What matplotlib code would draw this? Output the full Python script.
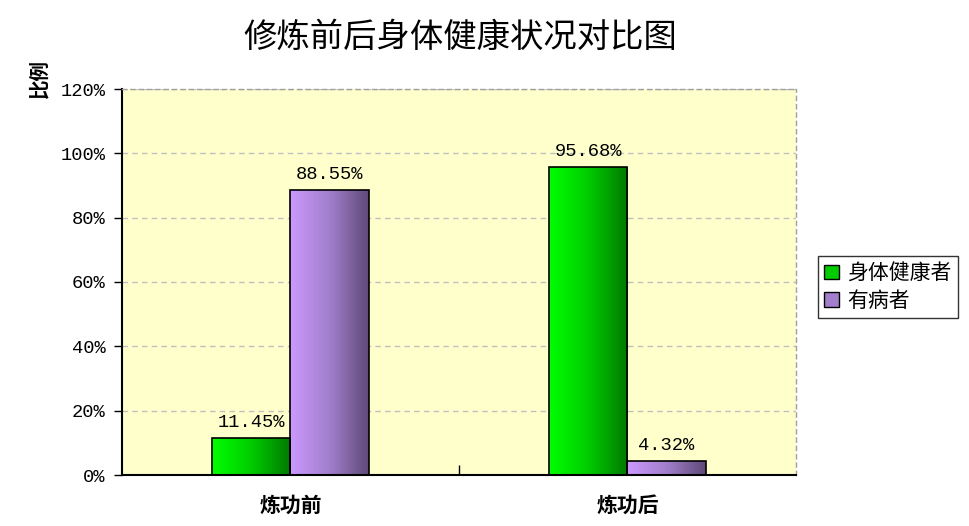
import numpy as np
import matplotlib
matplotlib.use("Agg")
import matplotlib.pyplot as plt
from matplotlib.patches import Patch
from matplotlib.colors import LinearSegmentedColormap

plt.rcParams['font.family'] = ['Noto Sans CJK SC', 'DejaVu Sans']

categories = ["炼功前", "炼功后"]
series_names = ["身体健康者", "有病者"]
healthy = [11.45, 95.68]
sick = [88.55, 4.32]
yticks = [0, 20, 40, 60, 80, 100, 120]

fig = plt.figure(figsize=(9.7, 5.26), dpi=100)
ax = fig.add_axes([122/970, 51/526, 674/970, 386/526])
ax.set_facecolor('#FFFFCC')

width = 0.2315
x = np.arange(len(categories))
grad_green = LinearSegmentedColormap.from_list('g', ['#00FF00', '#00CC00', '#007800'])
grad_purple = LinearSegmentedColormap.from_list('p', ['#CC99FF', '#A27FCC', '#5E4A78'])
grad = np.linspace(0, 1, 256).reshape(1, -1)

def draw_bars(vals, offset, cmap):
    bars = ax.bar(x + offset, vals, width, facecolor='none', edgecolor='black', linewidth=1.2, zorder=3)
    for b, v in zip(bars, vals):
        x0 = b.get_x()
        ax.imshow(grad, cmap=cmap, extent=[x0, x0 + width, 0, v], aspect='auto', zorder=2, interpolation='bilinear')
        ax.annotate(f"{v:.2f}%", (x0 + width/2, v), xytext=(0, 5), textcoords='offset points',
                    ha='center', va='bottom', fontsize=13.5, family='Liberation Mono', color='black')
    return bars

draw_bars(healthy, -width/2, grad_green)
draw_bars(sick, width/2, grad_purple)

ax.set_xlim(-0.5, 1.5)
ax.set_ylim(0, 120)
ax.set_yticks(yticks)
ax.set_yticklabels([f"{t}%" for t in yticks], family='Liberation Mono', fontsize=13.5)
ax.yaxis.grid(True, linestyle=(0, (4, 3)), color='#C0C0C0', linewidth=1)
ax.set_axisbelow(True)
ax.tick_params(axis='y', direction='out', length=6, width=1, pad=6)
ax.set_xticks(x)
ax.set_xticklabels(categories, fontsize=15, weight='bold')
ax.tick_params(axis='x', length=0, pad=14)
ax.set_xticks([0.5], minor=True)
ax.tick_params(axis='x', which='minor', direction='in', length=7, width=1)

for s in ['left', 'bottom']:
    ax.spines[s].set_color('black')
    ax.spines[s].set_linewidth(1.5)
for s in ['top', 'right']:
    ax.spines[s].set_color('#A0A0A0')
    ax.spines[s].set_linestyle((0, (3, 3)))
    ax.spines[s].set_linewidth(1)

fig.text(460/970, 1 - 37/526, "修炼前后身体健康状况对比图", ha='center', va='center', fontsize=24)
fig.text(40/970, 1 - 78/526, "比例", rotation=90, ha='center', va='center', fontsize=14, weight='bold')

handles = [Patch(facecolor='#00CC00', edgecolor='black'), Patch(facecolor='#A27FCC', edgecolor='black')]
leg = fig.legend(handles, series_names, loc='center left', bbox_to_anchor=(818/970, 1 - 287/526),
                 fontsize=15, frameon=True, fancybox=False, edgecolor='black', handlelength=0.7,
                 handleheight=0.7, handletextpad=0.4, borderpad=0.3, labelspacing=0.25, borderaxespad=0)
leg.get_frame().set_linewidth(1)

fig.savefig("out.png", dpi=100)
